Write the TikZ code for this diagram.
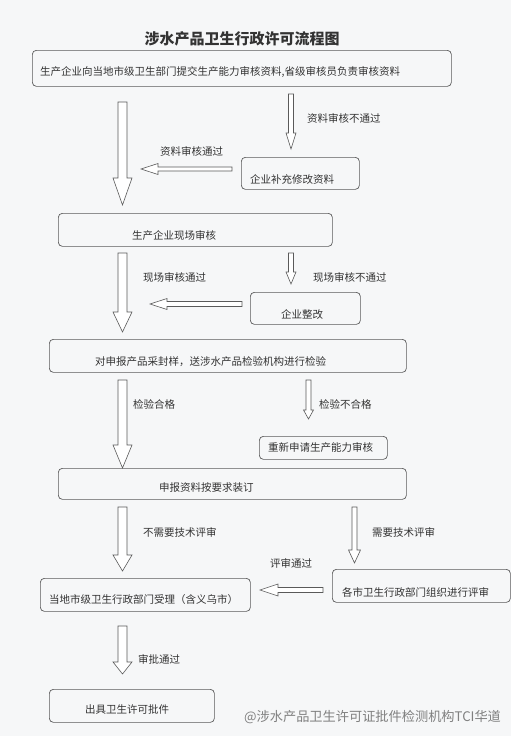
\documentclass[tikz,border=0pt]{standalone}
\usepackage{fontspec}
\setmainfont{Noto Sans CJK SC}
\usetikzlibrary{positioning}
\definecolor{linegray}{HTML}{5A5A5A}
\definecolor{textgray}{HTML}{333333}
\definecolor{paper}{HTML}{F6F7F8}
\tikzset{
  flowbox/.style={draw=linegray, line width=0.7pt, rounded corners=4pt, inner sep=0pt, anchor=north west},
  flowtext/.style={text=textgray, font=\fontsize{10.5}{12}\selectfont, inner sep=0pt, anchor=west},
  arrowline/.style={draw=linegray, line width=0.6pt, fill=white, line join=miter}
}
% hollow block arrows
% x, top, head start, tip, half shaft, half head
\newcommand{\vblock}[6]{%
  \draw[arrowline] ({#1-#5},#2) -- ({#1-#5},#3) -- ({#1-#6},#3) -- (#1,#4)
    -- ({#1+#6},#3) -- ({#1+#5},#3) -- ({#1+#5},#2) -- cycle;}
% y, right end, head start, tip, half shaft, half head
\newcommand{\hblock}[6]{%
  \draw[arrowline] (#2,{#1-#5}) -- (#3,{#1-#5}) -- (#3,{#1-#6}) -- (#4,#1)
    -- (#3,{#1+#6}) -- (#3,{#1+#5}) -- (#2,{#1+#5}) -- cycle;}
\begin{document}
\begin{tikzpicture}[x=1pt,y=-1pt]
\fill[paper] (0,0) rectangle (511,736);
\useasboundingbox (0,0) rectangle (511,736);

\node[font=\bfseries\fontsize{15}{18}\selectfont, text=textgray] (title) at (242,39) {涉水产品卫生行政许可流程图};

% boxes
\node[flowbox, minimum width=419pt, minimum height=36pt] (apply) at (32,50) {};
\node[flowtext] (applytxt) at (40,72) {生产企业向当地市级卫生部门提交生产能力审核资料,省级审核员负责审核资料};

\node[flowbox, minimum width=118pt, minimum height=32pt] (supp) at (241,157) {};
\node[flowtext] (supptxt) at (250,179) {企业补充修改资料};

\node[flowbox, minimum width=274pt, minimum height=33pt] (site) at (58,213) {};
\node[flowtext] (sitetxt) at (132,235) {生产企业现场审核};

\node[flowbox, minimum width=110pt, minimum height=32pt] (fix) at (250,292) {};
\node[flowtext] (fixtxt) at (281,314) {企业整改};

\node[flowbox, minimum width=357pt, minimum height=33pt] (sample) at (49,339) {};
\node[flowtext] (sampletxt) at (95,362) {对申报产品采封样，送涉水产品检验机构进行检验};

\node[flowbox, minimum width=128pt, minimum height=23pt] (reapply) at (259,436) {};
\node[flowtext] (reapplytxt) at (268,448) {重新申请生产能力审核};

\node[flowbox, minimum width=348pt, minimum height=31pt] (bind) at (58,468) {};
\node[flowtext] (bindtxt) at (159,488) {申报资料按要求装订};

\node[flowbox, minimum width=178pt, minimum height=33pt] (review) at (332,569) {};
\node[flowtext] (reviewtxt) at (342,592) {各市卫生行政部门组织进行评审};

\node[flowbox, minimum width=210pt, minimum height=33pt] (accept) at (40,578) {};
\node[flowtext] (accepttxt) at (49,600) {当地市级卫生行政部门受理（含义乌市）};

\node[flowbox, minimum width=165pt, minimum height=33pt] (issue) at (49,689) {};
\node[flowtext] (issuetxt) at (85,710) {出具卫生许可批件};

% main line
\vblock{122.5}{102}{178}{205}{4.5}{9.5}
\vblock{122.5}{253}{312}{332}{4.5}{9.5}
\vblock{122.5}{380}{445}{468}{4.5}{9.5}
\vblock{122.5}{507}{555}{571}{4.5}{9.5}
\vblock{122.5}{626}{662}{674}{4.5}{9.5}

% side branches
\vblock{291}{94}{133}{149}{2.5}{5}
\vblock{291}{253}{272}{284}{2.5}{5}
\vblock{308.5}{380}{410}{419}{2.5}{5}
\vblock{354.5}{507}{550}{563}{2.5}{6}
\hblock{169}{232}{158}{141}{2}{5.5}
\hblock{304}{242}{167}{150}{2.5}{5.5}
\hblock{590}{323}{278}{260}{2.5}{6}

% labels
\node[flowtext] (l1) at (307,118) {资料审核不通过};
\node[flowtext] (l2) at (160,151) {资料审核通过};
\node[flowtext] (l3) at (143,277) {现场审核通过};
\node[flowtext] (l4) at (313,277) {现场审核不通过};
\node[flowtext] (l5) at (133,404) {检验合格};
\node[flowtext] (l6) at (319,404) {检验不合格};
\node[flowtext] (l7) at (143,532) {不需要技术评审};
\node[flowtext] (l8) at (372,532) {需要技术评审};
\node[flowtext] (l9) at (270,563) {评审通过};
\node[flowtext] (l10) at (138,659) {审批通过};

\node[flowtext, text=gray, font=\fontsize{13.2}{15}\selectfont] (mark) at (244,717) {@涉水产品卫生许可证批件检测机构TCI华道};
\end{tikzpicture}
\end{document}
